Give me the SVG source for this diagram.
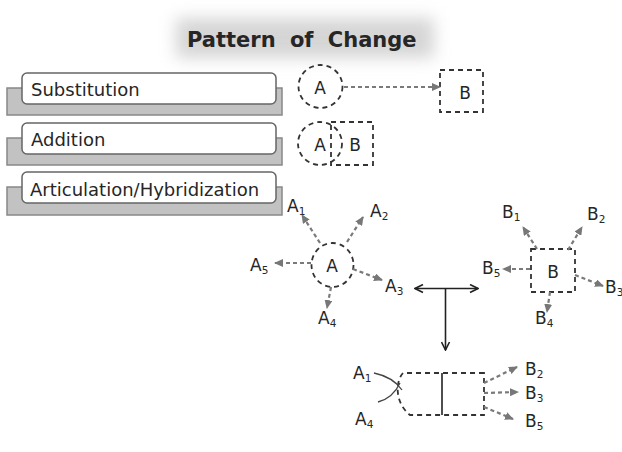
<svg xmlns="http://www.w3.org/2000/svg" width="622" height="452" viewBox="0 0 622 452">
<style>
.t{font-family:"DejaVu Sans","Liberation Sans",sans-serif;fill:#262626}
.lbl{font-size:17px}
.sub{font-size:10.5px}
.box{font-size:18px}
.gray{fill:#c2c2c2;stroke:#888;stroke-width:1.5}
.white{fill:#fff;stroke:#666;stroke-width:1.5}
.dsh{fill:none;stroke:#333;stroke-width:1.8;stroke-dasharray:5 4}
.arr{fill:none;stroke:#7a7a7a;stroke-width:2.2;stroke-dasharray:4 3;marker-end:url(#ga)}
.blk{fill:none;stroke:#222;stroke-width:1.6}
</style>
<defs>
<filter id="blur" x="-30%" y="-80%" width="160%" height="260%"><feGaussianBlur stdDeviation="8"/></filter>
<marker id="ga" markerUnits="userSpaceOnUse" markerWidth="9" markerHeight="8" refX="8" refY="4" orient="auto"><path d="M0,0 L9,4 L0,8 z" fill="#777"/></marker>
<marker id="ba" markerUnits="userSpaceOnUse" markerWidth="10" markerHeight="10" refX="9" refY="5" orient="auto-start-reverse"><path d="M1,1 L9,5 L1,9" fill="none" stroke="#222" stroke-width="1.6"/></marker>
</defs>
<rect width="622" height="452" fill="#fff"/>
<g id="title">
<rect x="176" y="18" width="258" height="40" fill="#c4c4c4" opacity="0.7" filter="url(#blur)"/>
<text class="t" x="187" y="47" font-size="21" font-weight="bold" word-spacing="7">Pattern of Change</text>
</g>
<g id="substitution">
<rect class="gray" x="7" y="88" width="275" height="27"/>
<rect class="white" x="22" y="73" width="254" height="31" rx="5"/>
<text class="t box" x="31" y="96">Substitution</text>
</g>
<g id="addition">
<rect class="gray" x="7" y="138" width="275" height="27"/>
<rect class="white" x="22" y="123" width="254" height="31" rx="5"/>
<text class="t box" x="31" y="146">Addition</text>
</g>
<g id="articulation">
<rect class="gray" x="7" y="187" width="275" height="28"/>
<rect class="white" x="22" y="172" width="254" height="31" rx="5"/>
<text class="t box" x="30" y="196">Articulation/Hybridization</text>
</g>
<g id="sub-A">
<ellipse class="dsh" cx="320.5" cy="86.5" rx="22" ry="21.5"/>
<text class="t lbl" x="320" y="94" text-anchor="middle">A</text>
</g>
<g id="sub-B">
<rect class="dsh" x="440" y="70" width="43" height="42"/>
<text class="t lbl" x="465" y="99" text-anchor="middle">B</text>
</g>
<g id="add-AB">
<ellipse class="dsh" cx="320" cy="143.5" rx="22" ry="21.5"/>
<rect class="dsh" x="331" y="122" width="42" height="43"/>
<text class="t lbl" x="320" y="151" text-anchor="middle">A</text>
<text class="t lbl" x="355" y="151" text-anchor="middle">B</text>
</g>
<g id="art-A">
<ellipse class="dsh" cx="332.5" cy="265" rx="21" ry="22"/>
<text class="t lbl" x="332" y="272" text-anchor="middle">A</text>
</g>
<g id="art-B">
<rect class="dsh" x="531" y="249" width="44" height="43"/>
<text class="t lbl" x="553" y="278" text-anchor="middle">B</text>
</g>
<g id="hybrid">
<path class="dsh" d="M484,373 H403 C395,382 395,403 410,415 H484 Z"/>
<line class="blk" x1="442" y1="373" x2="442" y2="415" stroke-width="2"/>
</g>
<g id="labels" class="t">
<text class="lbl" x="287" y="212">A<tspan class="sub" dy="3">1</tspan></text>
<text class="lbl" x="370" y="217">A<tspan class="sub" dy="3">2</tspan></text>
<text class="lbl" x="250" y="271">A<tspan class="sub" dy="3">5</tspan></text>
<text class="lbl" x="385" y="292">A<tspan class="sub" dy="3">3</tspan></text>
<text class="lbl" x="318" y="324">A<tspan class="sub" dy="3">4</tspan></text>
<text class="lbl" x="502" y="218">B<tspan class="sub" dy="3">1</tspan></text>
<text class="lbl" x="587" y="220">B<tspan class="sub" dy="3">2</tspan></text>
<text class="lbl" x="482" y="274">B<tspan class="sub" dy="3">5</tspan></text>
<text class="lbl" x="605" y="293">B<tspan class="sub" dy="3">3</tspan></text>
<text class="lbl" x="535" y="324">B<tspan class="sub" dy="3">4</tspan></text>
<text class="lbl" x="353" y="379">A<tspan class="sub" dy="3">1</tspan></text>
<text class="lbl" x="355" y="425">A<tspan class="sub" dy="3">4</tspan></text>
<text class="lbl" x="525" y="375">B<tspan class="sub" dy="3">2</tspan></text>
<text class="lbl" x="525" y="399">B<tspan class="sub" dy="3">3</tspan></text>
<text class="lbl" x="525" y="427">B<tspan class="sub" dy="3">5</tspan></text>
</g>
<g id="connectors">
<line class="arr" x1="344" y1="87" x2="440" y2="87"/>
<line class="arr" x1="320" y1="243" x2="302" y2="215"/>
<line class="arr" x1="347" y1="242" x2="363" y2="217"/>
<line class="arr" x1="311" y1="263" x2="275" y2="263"/>
<line class="arr" x1="353" y1="269" x2="382" y2="280"/>
<line class="arr" x1="331" y1="287" x2="327" y2="308"/>
<line class="arr" x1="537" y1="249" x2="523" y2="227"/>
<line class="arr" x1="568" y1="250" x2="582" y2="227"/>
<line class="arr" x1="530" y1="269" x2="503" y2="269"/>
<line class="arr" x1="575" y1="275" x2="603" y2="286"/>
<line class="arr" x1="550" y1="292" x2="547" y2="312"/>
<line class="arr" x1="484" y1="383" x2="517" y2="367"/>
<line class="arr" x1="484" y1="393" x2="518" y2="392"/>
<line class="arr" x1="484" y1="407" x2="513" y2="419"/>
<line class="blk" x1="415" y1="288.5" x2="478" y2="288.5" marker-start="url(#ba)" marker-end="url(#ba)"/>
<line class="blk" x1="445.5" y1="288.5" x2="445.5" y2="350" marker-end="url(#ba)"/>
<path d="M374,373 Q393,377 402,390" fill="none" stroke="#444" stroke-width="1.3"/>
<path d="M378,402 Q393,398 400,383" fill="none" stroke="#444" stroke-width="1.3"/>
</g>
</svg>
